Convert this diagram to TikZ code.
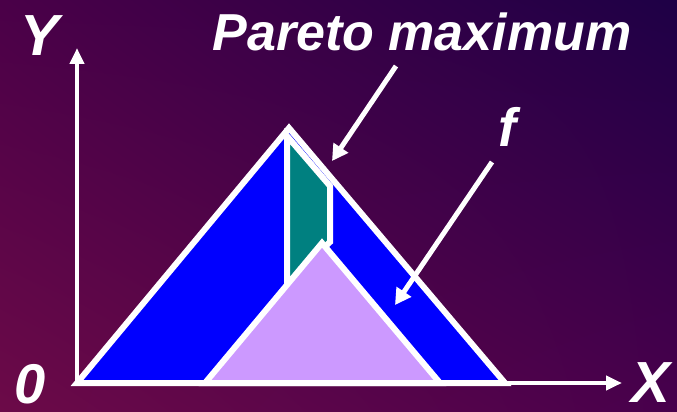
\documentclass[tikz,border=0pt]{standalone}
\usepackage{fontspec}
\setmainfont{Liberation Sans}
\usetikzlibrary{arrows.meta,shadings}
\definecolor{bgul}{HTML}{4A0048}
\definecolor{bgur}{HTML}{1E0046}
\definecolor{bgll}{HTML}{6C0A48}
\definecolor{bglr}{HTML}{48004C}
\definecolor{triblue}{HTML}{0000FF}
\definecolor{lilac}{HTML}{CC99FF}
\definecolor{tealc}{HTML}{008080}
\tikzset{
  lbl/.style={text=white,font=\bfseries\itshape,inner sep=0pt},
  axis/.style={white,line width=4pt,-{Triangle[length=16pt,width=14pt]}},
  pointer/.style={white,line width=5pt,-{Triangle[length=16pt,width=17pt]}},
  area/.style={draw=white,line width=6pt,line join=miter}
}
\begin{document}
\begin{tikzpicture}[x=1pt,y=-1pt]
\useasboundingbox (0,0) rectangle (677,412);
\shade[upper left=bgul,upper right=bgur,lower left=bgll,lower right=bglr] (0,0) rectangle (677,412);
% shapes
\draw[area,fill=triblue] (77,383) -- (289,128) -- (505,383) -- cycle;
\draw[area,fill=tealc] (287,136) -- (330,186) -- (330,242) -- (287,284) -- cycle;
\draw[area,fill=lilac] (205,383) -- (322,243) -- (440,383) -- cycle;
% axes
\coordinate (o) at (77,383);
\coordinate (ytip) at (77,48);
\coordinate (xtip) at (622,383);
\draw[axis] (o) -- (ytip);
\draw[axis] ([xshift=-2pt]o) -- (xtip);
% labels
\node[lbl,font=\fontsize{58}{58}\selectfont\bfseries\itshape] (ylab) at (40,36) {Y};
\node[lbl,font=\fontsize{56}{56}\selectfont\bfseries\itshape] (zlab) at (30,384) {0};
\node[lbl,font=\fontsize{58}{58}\selectfont\bfseries\itshape] (xlab) at (651,383) {X};
\node[lbl,font=\fontsize{52}{52}\selectfont\bfseries\itshape] (pm) at (422,32) {Pareto maximum};
\node[lbl,font=\fontsize{54}{54}\selectfont\bfseries\itshape] (flab) at (507,127) {f};
% pointers
\coordinate (p1s) at (396,66);
\coordinate (p1e) at (332,161);
\coordinate (p2s) at (492,162);
\coordinate (p2e) at (395,305);
\draw[pointer] (p1s) -- (p1e);
\draw[pointer] (p2s) -- (p2e);
\end{tikzpicture}
\end{document}
